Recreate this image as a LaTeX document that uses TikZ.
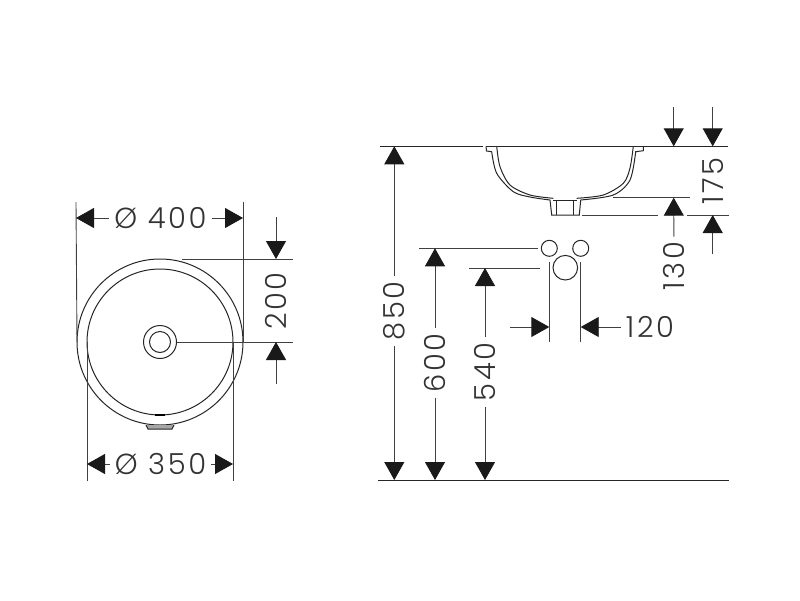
\documentclass[tikz,border=0pt]{standalone}
\usepackage{fontspec}
\usetikzlibrary{arrows.meta}
\newfontfamily\dimfont[LetterSpace=9]{Poppins Light}
\tikzset{
    part/.style={draw=black!85, line width=1pt},
    partcircle/.style={circle, draw=black!85, line width=1pt, inner sep=0pt, outer sep=0pt},
    dimline/.style={draw=black!75, line width=0.9pt},
    dimarrow/.style={dimline, -{Triangle[length=18pt, width=20pt, color=black!90]}},
    dimlabel/.style={font=\dimfont\fontsize{29}{29}\selectfont, text=black!80, text height=21pt, text depth=0pt, inner xsep=5pt, inner ysep=0pt},
}

\begin{document}
\begin{tikzpicture}[x=1pt, y=-1pt]
    \useasboundingbox (0, 0) rectangle (800, 600);

    % Draw plan view
    \node (bowlOuter) at (160, 342) [partcircle, minimum size=166pt] {};
    \node (bowlInner) at (160, 342) [partcircle, minimum size=146pt] {};
    \node (drainOuter) at (160, 342) [partcircle, minimum size=33pt] {};
    \node (drainInner) at (160, 342) [partcircle, minimum size=21pt] {};
    \draw[line width=1.6pt, black] (155, 415) -- (165, 415);
    \draw[part, fill=black!35] (146, 425) -- (148, 429) -- (172, 429) -- (174, 425);

    % Draw side view
    \draw[part] (486, 146.3) -- (486.5, 151) -- (491.7, 151.7) plot[smooth] coordinates {(491.7, 151.7) (496.7, 173.3) (513.3, 191.7) (530, 197) (550, 200)};
    \draw[part] plot[smooth] coordinates {(496.7, 146.3) (500, 166.7) (510, 185) (530, 195) (553.3, 198.3)};
    \draw[part] plot[smooth] coordinates {(576.7, 198.3) (603.3, 195) (623.3, 183.3) (630, 168) (633.3, 146.3)};
    \draw[part] plot[smooth] coordinates {(580.7, 200) (613.3, 195) (630, 180) (635.7, 151.7)} -- (643.3, 150.7) -- (643.3, 146.3);
    \draw[part] (550, 200) -- (551.7, 215) -- (579.3, 215) -- (580.7, 200);
    \draw[part] (556, 200) -- (556, 215);
    \draw[part] (573.3, 200) -- (573.3, 215);
    \draw[part] (553, 200) -- (577, 200);

    % Draw fittings
    \node (valveL) at (549.3, 248.3) [partcircle, minimum size=16pt] {};
    \node (valveR) at (580.7, 248.3) [partcircle, minimum size=16pt] {};
    \node (spout) at (565.3, 267.7) [partcircle, minimum size=24.6pt] {};

    % Draw labels
    \node (lbl400) at (160.5, 218) [dimlabel] {Ø 400};
    \node (lbl350) at (160.5, 464) [dimlabel] {Ø 350};
    \node (lbl200) at (276, 301) [dimlabel, rotate=90] {200};
    \node (lbl850) at (394.3, 311) [dimlabel, rotate=90] {850};
    \node (lbl600) at (435, 363) [dimlabel, rotate=90] {600};
    \node (lbl540) at (485, 372) [dimlabel, rotate=90] {540};
    \node (lbl120) at (650, 327) [dimlabel] {120};
    \node (lbl130) at (674, 266) [dimlabel, rotate=90] {130};
    \node (lbl175) at (713, 181) [dimlabel, rotate=90] {175};

    % Reference points
    \coordinate (ext400L) at (76, 202);
    \coordinate (ext400R) at (243, 202);
    \coordinate (tip400L) at (76, 218);
    \coordinate (tip400R) at (243, 218);
    \coordinate (ext350L) at (87, 481);
    \coordinate (ext350R) at (233, 481);
    \coordinate (tip350L) at (87, 464);
    \coordinate (tip350R) at (233, 464);
    \coordinate (ext200Top) at (182, 259);
    \coordinate (end200Top) at (293, 259);
    \coordinate (end200Bot) at (293, 342);
    \coordinate (from200Top) at (276, 217);
    \coordinate (tip200Top) at (276, 259);
    \coordinate (from200Bot) at (276, 384);
    \coordinate (tip200Bot) at (276, 342);
    \coordinate (topStart) at (380, 146.3);
    \coordinate (topGap) at (483, 146.3);
    \coordinate (rimStart) at (486, 146.3);
    \coordinate (topEnd) at (728, 146.3);
    \coordinate (floorStart) at (378, 480);
    \coordinate (floorEnd) at (729, 480);
    \coordinate (tip850Top) at (394.3, 146.3);
    \coordinate (tip850Bot) at (394.3, 480);
    \coordinate (start600) at (419, 248.3);
    \coordinate (end600) at (538, 248.3);
    \coordinate (tip600Top) at (435, 248.3);
    \coordinate (tip600Bot) at (435, 480);
    \coordinate (start540) at (469, 268);
    \coordinate (end540) at (540, 268);
    \coordinate (tip540Top) at (485, 268);
    \coordinate (tip540Bot) at (485, 480);
    \coordinate (ext120L) at (549.3, 342);
    \coordinate (top120L) at (549.3, 262);
    \coordinate (ext120R) at (580.7, 342);
    \coordinate (top120R) at (580.7, 262);
    \coordinate (from120) at (510, 327);
    \coordinate (tip120L) at (549.3, 327);
    \coordinate (tip120R) at (580.7, 327);
    \coordinate (start130) at (613, 197.7);
    \coordinate (end130) at (690, 197.7);
    \coordinate (start175) at (582, 215);
    \coordinate (mid175) at (658, 215);
    \coordinate (next175) at (687, 215);
    \coordinate (end175) at (729, 215);
    \coordinate (from130Top) at (673.7, 107);
    \coordinate (tip130Top) at (673.7, 146.3);
    \coordinate (tip130) at (673.7, 197.7);
    \coordinate (from175Top) at (712.7, 107);
    \coordinate (tip175Top) at (712.7, 146.3);
    \coordinate (from175Bot) at (712.7, 254);
    \coordinate (tip175Bot) at (712.7, 215);

    % Draw extension lines
    \draw[dimline] (bowlOuter.west) -- (ext400L);
    \draw[dimline] (bowlOuter.east) -- (ext400R);
    \draw[dimline] (bowlInner.west) -- (ext350L);
    \draw[dimline] (bowlInner.east) -- (ext350R);
    \draw[dimline] (ext200Top) -- (end200Top);
    \draw[dimline] (drainOuter.east) -- (end200Bot);
    \draw[part] (topStart) -- (topGap);
    \draw[part] (rimStart) -- (topEnd);
    \draw[part] (floorStart) -- (floorEnd);
    \draw[dimline] (start600) -- (end600);
    \draw[dimline] (start540) -- (end540);
    \draw[dimline] (top120L) -- (ext120L);
    \draw[dimline] (top120R) -- (ext120R);
    \draw[dimline] (start130) -- (end130);
    \draw[dimline] (start175) -- (mid175);
    \draw[dimline] (next175) -- (end175);

    % Draw dimension arrows
    \draw[dimarrow] (lbl400) -- (tip400L);
    \draw[dimarrow] (lbl400) -- (tip400R);
    \draw[dimarrow] (lbl350) -- (tip350L);
    \draw[dimarrow] (lbl350) -- (tip350R);
    \draw[dimarrow] (from200Top) -- (tip200Top);
    \draw[dimarrow] (from200Bot) -- (tip200Bot);
    \draw[dimarrow] (lbl850) -- (tip850Top);
    \draw[dimarrow] (lbl850) -- (tip850Bot);
    \draw[dimarrow] (lbl600) -- (tip600Top);
    \draw[dimarrow] (lbl600) -- (tip600Bot);
    \draw[dimarrow] (lbl540) -- (tip540Top);
    \draw[dimarrow] (lbl540) -- (tip540Bot);
    \draw[dimarrow] (from120) -- (tip120L);
    \draw[dimarrow] (lbl120) -- (tip120R);
    \draw[dimarrow] (from130Top) -- (tip130Top);
    \draw[dimarrow] (lbl130) -- (tip130);
    \draw[dimarrow] (from175Top) -- (tip175Top);
    \draw[dimarrow] (from175Bot) -- (tip175Bot);
\end{tikzpicture}
\end{document}
